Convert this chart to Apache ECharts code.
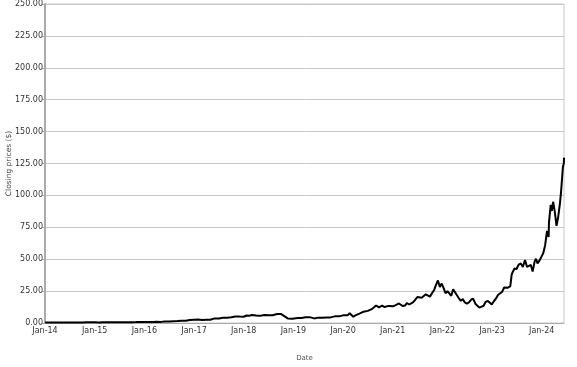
<!DOCTYPE html>
<html><head><meta charset="utf-8">
<script src="https://cdn.jsdelivr.net/npm/echarts@6/dist/echarts.min.js"></script>
<style>html,body{margin:0;padding:0;background:#fff}#c{width:577px;height:367px}</style>
</head><body><div id="c"></div>
<script>
// NVIDIA-style closing prices (split-adjusted)
const dates = [
"2014-01-02","2014-02-03","2014-03-03","2014-04-01","2014-05-01","2014-06-02","2014-07-01","2014-08-01","2014-09-02","2014-10-01","2014-11-03","2014-12-01",
"2015-01-02","2015-02-02","2015-03-02","2015-04-01","2015-05-01","2015-06-01","2015-07-01","2015-08-03","2015-09-01","2015-10-01","2015-11-02","2015-12-01",
"2016-01-04","2016-02-01","2016-03-01","2016-04-01","2016-05-02","2016-06-01","2016-07-01","2016-08-01","2016-09-01","2016-10-03","2016-11-01","2016-11-15","2016-12-01","2016-12-15",
"2017-01-03","2017-02-01","2017-03-01","2017-04-03","2017-05-01","2017-05-15","2017-06-01","2017-07-03","2017-08-01","2017-09-01","2017-10-02","2017-11-01","2017-12-01",
"2018-01-02","2018-01-22","2018-02-08","2018-03-01","2018-03-13","2018-04-02","2018-05-01","2018-06-01","2018-07-02","2018-08-01","2018-09-04","2018-10-01","2018-10-24","2018-11-20","2018-12-03","2018-12-24",
"2019-01-02","2019-02-01","2019-03-01","2019-04-01","2019-05-01","2019-06-03","2019-07-01","2019-08-01","2019-09-03","2019-10-01","2019-11-01","2019-12-02",
"2020-01-02","2020-01-15","2020-02-03","2020-02-19","2020-03-02","2020-03-16","2020-04-01","2020-04-15","2020-05-01","2020-05-15","2020-06-01","2020-06-15","2020-07-01","2020-07-15","2020-08-03","2020-08-17","2020-09-01","2020-09-08","2020-09-21","2020-10-01","2020-10-15","2020-11-02","2020-11-16","2020-12-01","2020-12-15",
"2021-01-04","2021-01-19","2021-02-01","2021-02-16","2021-03-01","2021-03-15","2021-04-01","2021-04-15","2021-05-03","2021-05-17","2021-06-01","2021-06-15","2021-07-01","2021-07-15","2021-08-02","2021-08-16","2021-09-01","2021-09-15","2021-10-01","2021-10-15","2021-11-01","2021-11-15","2021-11-29","2021-12-13","2021-12-27",
"2022-01-10","2022-01-24","2022-02-07","2022-02-22","2022-03-07","2022-03-21","2022-04-04","2022-04-18","2022-05-02","2022-05-16","2022-05-31","2022-06-15","2022-06-30","2022-07-15","2022-08-01","2022-08-16","2022-08-31","2022-09-15","2022-09-30","2022-10-14","2022-10-31","2022-11-15","2022-12-01","2022-12-15","2022-12-30",
"2023-01-13","2023-01-31","2023-02-15","2023-02-28","2023-03-15","2023-03-31","2023-04-14","2023-04-28","2023-05-15","2023-05-25","2023-06-01","2023-06-15","2023-06-30","2023-07-14","2023-07-31","2023-08-15","2023-08-31","2023-09-15","2023-09-29","2023-10-13","2023-10-26","2023-11-10","2023-11-20","2023-12-01","2023-12-15","2023-12-29",
"2024-01-12","2024-01-26","2024-02-09","2024-02-21","2024-02-23","2024-03-07","2024-03-15","2024-03-25","2024-04-05","2024-04-19","2024-05-01","2024-05-15","2024-05-23","2024-06-05","2024-06-12","2024-06-13"
];
const closes = [
0.40,0.39,0.45,0.45,0.44,0.48,0.46,0.45,0.47,0.46,0.51,0.50,
0.50,0.48,0.55,0.52,0.55,0.55,0.50,0.50,0.56,0.62,0.71,0.80,
0.82,0.73,0.80,0.89,0.88,1.16,1.17,1.42,1.53,1.71,1.76,2.30,2.30,2.60,
2.55,2.68,2.40,2.60,2.60,3.40,3.60,3.60,4.05,4.20,4.50,5.10,5.00,
4.90,5.90,5.60,6.20,6.10,5.80,5.60,6.30,6.00,6.10,7.00,7.10,5.60,3.60,4.10,3.30,
3.40,3.90,3.90,4.50,4.60,3.60,4.20,4.20,4.40,4.40,5.20,5.20,
5.99,6.10,6.00,7.70,6.90,4.90,6.00,7.00,7.30,8.70,8.90,9.00,9.50,10.40,11.10,11.80,13.70,12.30,12.30,13.50,13.60,12.50,13.50,13.40,13.30,
13.10,13.80,13.20,15.30,13.90,13.30,13.70,15.60,14.50,14.00,16.30,17.80,20.30,18.90,19.80,20.60,22.50,22.20,20.70,22.20,25.80,29.90,33.30,28.30,30.90,
27.40,23.30,24.90,23.10,21.30,26.40,27.40,21.70,19.40,17.40,18.70,16.10,15.20,16.10,18.40,19.00,15.10,13.60,12.10,11.30,13.50,16.60,17.20,17.00,14.60,
16.80,19.50,22.10,23.20,24.30,27.80,26.80,27.70,28.90,37.90,39.80,42.70,42.30,45.50,46.70,43.90,49.30,43.90,43.50,45.50,40.30,48.30,50.40,46.70,48.90,49.50,
54.70,61.00,72.10,67.50,78.50,92.60,87.80,95.00,88.00,76.20,83.00,94.60,103.80,122.40,125.20,129.60
];
const yTicks = [0,25,50,75,100,125,150,175,200,225,250];
const xStartYear = 2014, xEndDate = "2024-06-13";

function decYear(s){
  const d = new Date(s + "T00:00:00Z");
  const y = d.getUTCFullYear();
  const start = Date.UTC(y,0,1), end = Date.UTC(y+1,0,1);
  return y + (d.getTime()-start)/(end-start);
}
const seriesData = dates.map((d,i)=>[decYear(d), closes[i]]);
const font = "DejaVu Sans";
const chart = echarts.init(document.getElementById('c'), null, {renderer:'canvas'});
chart.setOption({
  animation:false,
  backgroundColor:'#fff',
  grid:{left:45,right:13,top:4,bottom:44,show:true,borderColor:'#c8c8c8',borderWidth:1,containLabel:false,outerBoundsMode:'none'},
  xAxis:{
    type:'value', min:xStartYear, max:decYear(xEndDate), interval:1,
    name:'Date', nameLocation:'middle', nameGap:32, nameMoveOverlap:false,
    nameTextStyle:{fontFamily:font,fontSize:7,color:'#555'},
    axisLine:{show:true,lineStyle:{color:'#aaa',width:1}},
    axisTick:{show:false},
    splitLine:{show:false},
    axisLabel:{fontFamily:font,fontSize:8,color:'#333',margin:4,showMaxLabel:false,
      formatter:v=>'Jan-'+String(Math.round(v)%100).padStart(2,'0')}
  },
  yAxis:{
    type:'value', min:yTicks[0], max:yTicks[yTicks.length-1], interval:yTicks[1]-yTicks[0],
    name:'Closing prices ($)', nameLocation:'middle', nameGap:32, nameMoveOverlap:false,
    nameTextStyle:{fontFamily:font,fontSize:7.5,color:'#444'},
    axisLine:{show:true,lineStyle:{color:'#aaa',width:2}},
    axisTick:{show:true,length:3,lineStyle:{color:'#aaa',width:1}},
    splitLine:{show:true,lineStyle:{color:'#c8c8c8',width:1}},
    axisLabel:{fontFamily:font,fontSize:8,color:'#333',margin:2,formatter:v=>v.toFixed(2)}
  },
  series:[{type:'line',data:seriesData,showSymbol:false,symbol:'none',
    lineStyle:{color:'#000',width:2},z:5}]
});
</script></body></html>
